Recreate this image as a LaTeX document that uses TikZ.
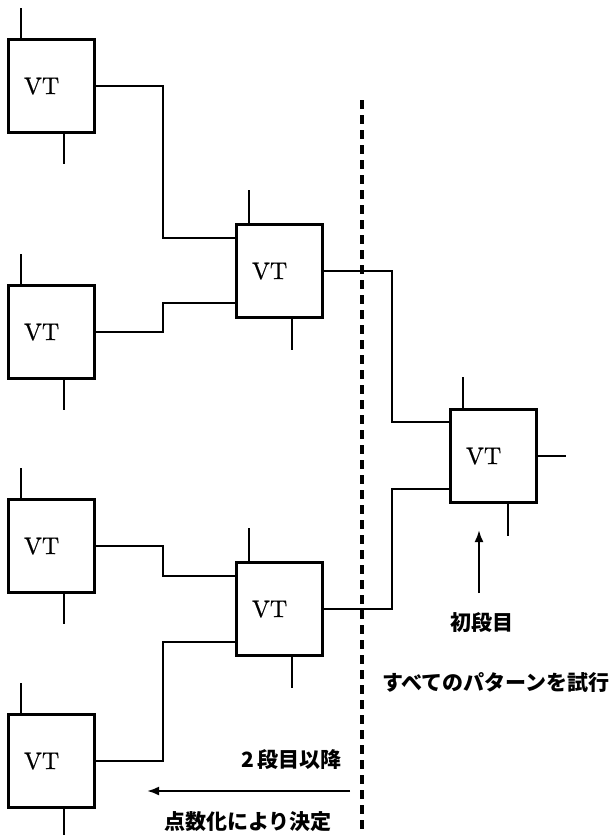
\documentclass[tikz,border=0pt]{standalone}
\usepackage{fontspec}
\newfontfamily\jp{Noto Sans CJK JP}
\newfontfamily\vtfont[Extension=.otf, FakeBold=0.6]{lmroman10-regular}
\usetikzlibrary{arrows.meta}
\begin{document}
\begin{tikzpicture}[x=1pt,y=-1pt,
  vt/.style={draw, line width=3.2pt, rectangle, inner sep=0pt, anchor=north west,
    minimum width=86pt, minimum height=93pt,
    label={[font=\vtfont\fontsize{24}{24}\selectfont, xshift=-10pt]center:VT}},
  wire/.style={line width=2.2pt},
  jtext/.style={font=\jp\bfseries\fontsize{21}{21}\selectfont, inner sep=0pt},
  arr/.style={line width=2.2pt, -{Latex[length=12pt,width=9pt]}}
]
\useasboundingbox (0,0) rectangle (615,835);
% boxes
\node[vt] (A1) at (7,38) {};
\node[vt] (A2) at (7,284) {};
\node[vt] (A3) at (7,498) {};
\node[vt] (A4) at (7,713) {};
\node[vt] (B1) at (235,223) {};
\node[vt] (B2) at (235,561) {};
\node[vt] (C) at (449,408) {};
% junction columns
\coordinate (j1) at (163,0);
\coordinate (j2) at (392,0);
% input points
\coordinate (B1a) at ([yshift=-15pt]B1.north west);
\coordinate (B1b) at ([yshift=16pt]B1.south west);
\coordinate (B2a) at ([yshift=-15pt]B2.north west);
\coordinate (B2b) at ([yshift=15pt]B2.south west);
\coordinate (Ca) at ([yshift=-14pt]C.north west);
\coordinate (Cb) at ([yshift=15pt]C.south west);
% stubs
\foreach \b in {A1,A2,A3,A4} {
  \draw[wire] ([xshift=14pt]\b.north west) -- ++(0,-30);
  \draw[wire] ([xshift=57pt]\b.south west) -- ++(0,30);
}
\foreach \b in {B1,B2} {
  \draw[wire] ([xshift=14pt]\b.north west) -- ++(0,-33);
  \draw[wire] ([xshift=57pt]\b.south west) -- ++(0,31);
}
\draw[wire] ([xshift=14pt]C.north west) -- ++(0,-31);
\draw[wire] ([xshift=59pt]C.south west) -- ++(0,32);
\draw[wire] (C.east) -- ++(28,0);
% connectors
\draw[wire] (A1.east) -- (A1.east -| j1) |- (B1a);
\draw[wire] (A2.east) -- (A2.east -| j1) |- (B1b);
\draw[wire] (A3.east) -- (A3.east -| j1) |- (B2a);
\draw[wire] (A4.east) -- (A4.east -| j1) |- (B2b);
\draw[wire] (B1.east) -- (B1.east -| j2) |- (Ca);
\draw[wire] (B2.east) -- (B2.east -| j2) |- (Cb);
% dashed separator
\coordinate (d1) at (362,100);
\coordinate (d2) at (362,835);
\draw[line width=3.4pt, dash pattern=on 9pt off 6pt] (d1) -- (d2);
% first stage annotation
\coordinate (u1) at (479,593);
\coordinate (u2) at (479,530);
\draw[arr] (u1) -- (u2);
\node[jtext] (t1) at (482,623) {初段目};
\node[jtext] (t2) at (496,683) {すべてのパターンを試行};
% later stages annotation
\node[jtext, anchor=east] (t3) at (342,760) {2\,段目以降};
\coordinate (l1) at (350,791);
\coordinate (l2) at (147,791);
\draw[arr] (l1) -- (l2);
\node[jtext] (t4) at (248,822) {点数化により決定};
\end{tikzpicture}
\end{document}
